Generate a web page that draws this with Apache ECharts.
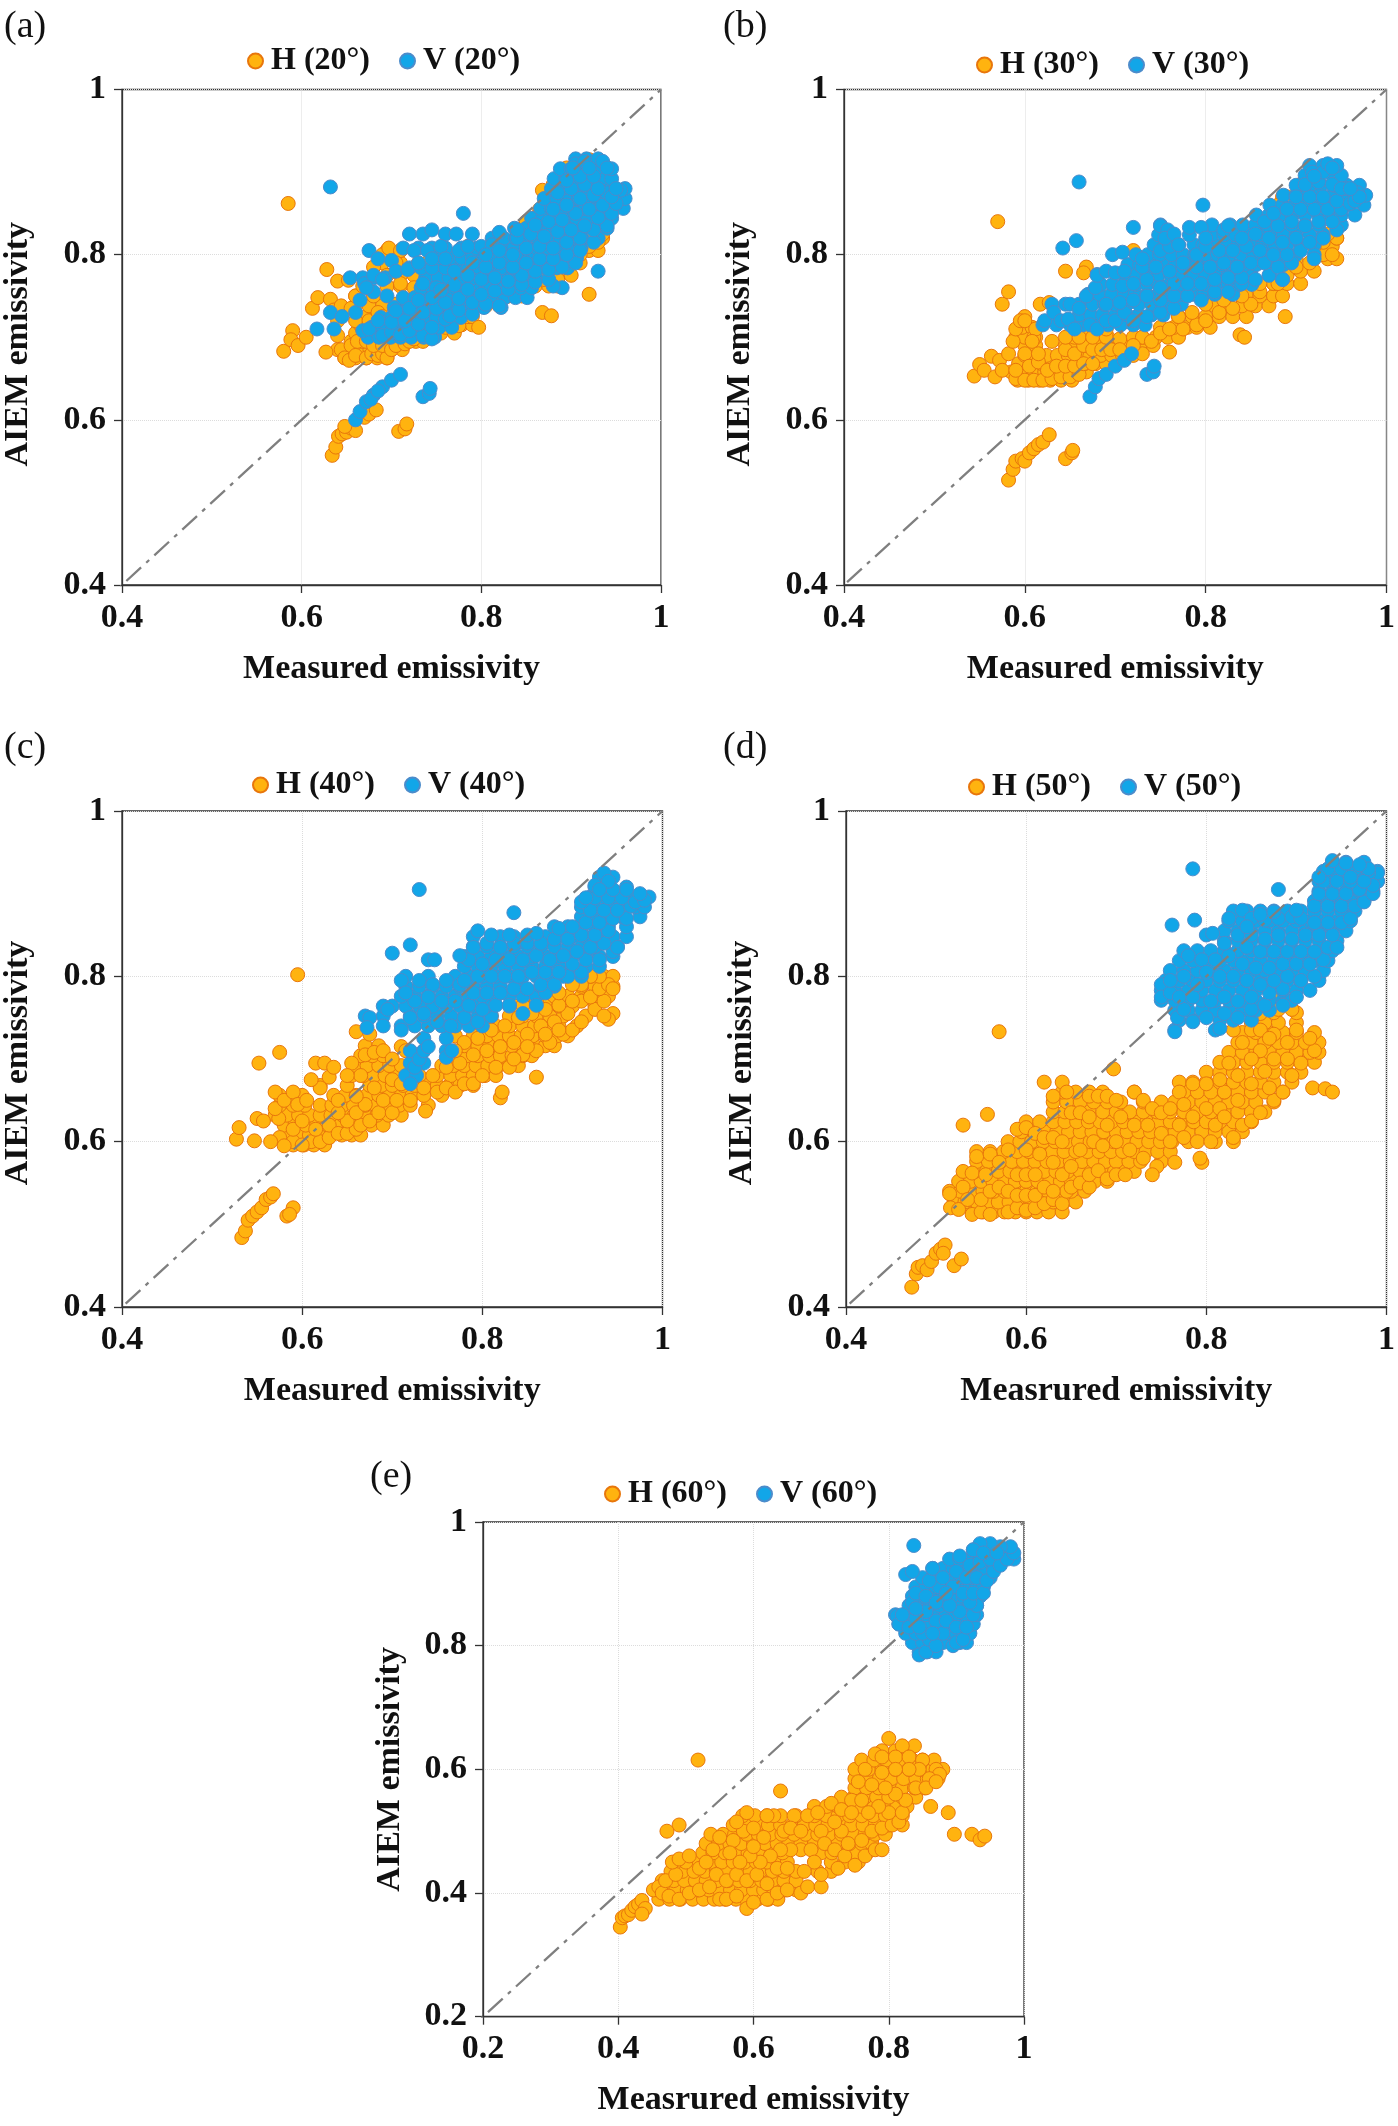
<!DOCTYPE html>
<html><head><meta charset="utf-8">
<style>html,body{margin:0;padding:0;background:#fff}#c{width:1398px;height:2126px}</style>
<script src="https://cdn.jsdelivr.net/npm/echarts@6/dist/echarts.min.js"></script>
</head><body><div id="c"></div>
<script>
const panelLetters=['(a)','(b)','(c)','(d)','(e)'];
const angles=['20°','30°','40°','50°','60°'];
const xTitles=['Measured emissivity','Measured emissivity','Measured emissivity','Measrured emissivity','Measrured emissivity'];
const yTitle='AIEM emissivity';

const aH=[[.585,.862],[.58,.683],[.59,.708],[.588,.697],[.596,.69],[.605,.7],[.612,.735],[.618,.748],[.632,.746],[.628,.782],[.64,.768],[.652,.769],[.627,.682],[.64,.702],[.64,.72],[.636,.733],[.644,.738],[.644,.685],[.648,.675],[.655,.69],[.653,.672],[.66,.678],[.662,.695],[.668,.71],[.66,.72],[.655,.735],[.66,.75],[.668,.762],[.672,.675],[.678,.68],[.685,.678],[.69,.68],[.695,.675],[.672,.695],[.68,.69],[.69,.69],[.7,.685],[.705,.69],[.715,.692],[.72,.695],[.725,.698],[.675,.72],[.685,.73],[.68,.785],[.69,.8],[.697,.808],[.71,.805],[.705,.79],[.695,.775],[.71,.765],[.725,.76],[.72,.745],[.705,.74],[.69,.725],[.7,.72],[.73,.71],[.745,.712],[.76,.712],[.775,.714],[.785,.725],[.79,.725],[.797,.712],[.75,.725],[.765,.73],[.78,.735],[.8,.745],[.815,.745],[.83,.75],[.845,.755],[.855,.76],[.87,.77],[.88,.772],[.89,.785],[.9,.79],[.91,.8],[.92,.81],[.93,.815],[.935,.825],[.868,.73],[.878,.726],[.92,.752],[.868,.878],[.885,.77],[.84,.83],[.86,.845],[.87,.855],[.88,.87],[.885,.885],[.89,.895],[.895,.905],[.905,.91],[.92,.915],[.94,.905],[.935,.89],[.9,.88],[.634,.557],[.638,.567],[.641,.58],[.645,.583],[.65,.585],[.655,.59],[.66,.587],[.648,.592],[.67,.603],[.675,.607],[.683,.612],[.708,.586],[.715,.589],[.717,.595],[.74,.79],[.755,.785],[.77,.8],[.785,.81]];
const aV=[[.632,.882],[.78,.85],[.617,.71],[.632,.73],[.636,.71],[.645,.725],[.66,.73],[.665,.745],[.67,.765],[.668,.708],[.675,.805],[.685,.795],[.7,.793],[.72,.825],[.735,.825],[.745,.83],[.76,.825],[.772,.825],[.79,.825],[.82,.827],[.68,.775],[.69,.77],[.695,.75],[.705,.78],[.718,.782],[.725,.805],[.74,.805],[.755,.81],[.73,.79],[.745,.795],[.76,.795],[.775,.805],[.785,.81],[.8,.81],[.812,.812],[.68,.755],[.672,.76],[.71,.73],[.72,.73],[.735,.765],[.75,.76],[.66,.6],[.665,.61],[.672,.622],[.68,.63],[.69,.64],[.7,.648],[.71,.655],[.677,.625],[.685,.635],[.735,.628],[.742,.632],[.743,.638],[.89,.76],[.88,.762],[.93,.78],[.69,.702],[.70,.706],[.71,.703],[.72,.708],[.735,.702],[.745,.698],[.675,.71],[.685,.72],[.7,.718],[.715,.72],[.73,.716],[.745,.712],[.76,.722],[.705,.732],[.72,.735],[.735,.73],[.75,.735],[.765,.726],[.775,.733],[.79,.728],[.73,.745],[.745,.748],[.76,.742],[.775,.747],[.79,.742],[.805,.74],[.82,.738],[.755,.757],[.77,.763],[.785,.758],[.8,.752],[.815,.756],[.83,.758],[.845,.764],[.86,.767],[.875,.77],[.77,.78],[.785,.775],[.8,.77],[.815,.772],[.83,.768],[.845,.775],[.86,.78],[.875,.782],[.89,.785],[.905,.79],[.79,.79],[.805,.785],[.82,.79],[.835,.785],[.85,.79],[.865,.795],[.88,.795],[.895,.8],[.91,.805],[.925,.815],[.805,.8],[.82,.805],[.835,.8],[.85,.808],[.865,.81],[.88,.808],[.895,.815],[.91,.82],[.925,.83],[.94,.835],[.84,.82],[.855,.825],[.87,.822],[.885,.828],[.9,.83],[.915,.835],[.93,.845],[.945,.85],[.84,.83],[.86,.836],[.875,.84],[.89,.842],[.905,.85],[.92,.855],[.935,.86],[.95,.862],[.88,.855],[.895,.86],[.91,.868],[.925,.872],[.94,.875],[.955,.878],[.945,.87],[.885,.875],[.9,.88],[.915,.885],[.93,.88],[.95,.88],[.895,.89],[.91,.895],[.925,.895],[.905,.91],[.915,.913],[.902,.905],[.92,.905],[.935,.913],[.94,.905]];
const aHRows=[[.675,[.648,.66,.672,.684,.695]],[.685,[.64,.652,.664,.676,.688,.7,.712]],[.695,[.655,.667,.679,.691,.703,.715,.727,.735]],[.705,[.66,.672,.684,.73,.742,.755,.77]],[.715,[.665,.678,.69,.74,.752,.765,.778,.79]],[.725,[.672,.684,.76,.775,.787]],[.738,[.66,.675,.69,.775,.79,.805,.82]],[.75,[.66,.68,.8,.815,.83,.845]],[.762,[.67,.695,.71,.83,.845,.86,.875,.885]],[.775,[.695,.71,.725,.86,.873,.885,.9]],[.79,[.69,.71,.73,.75,.88,.895,.91]],[.805,[.695,.71,.905,.92,.93]],[.82,[.92,.935]],[.84,[.85,.862]],[.855,[.865,.875]],[.87,[.875,.885]],[.885,[.88,.89,.9]],[.9,[.893,.905,.925,.94]]];
const aVRows=[[.7,[.674,.686,.699,.71,.722,.736,.748]],[.712,[.678,.69,.702,.716,.728,.74,.753,.767]],[.724,[.688,.7,.713,.725,.738,.75,.762,.777]],[.736,[.703,.716,.728,.74,.752,.766,.778,.79,.803,.822]],[.748,[.713,.726,.738,.75,.763,.776,.788,.8,.812,.826,.838,.851]],[.76,[.733,.746,.758,.77,.783,.795,.807,.82,.832,.844,.856]],[.772,[.654,.668,.68,.693,.738,.752,.764,.777,.79,.802,.815,.827,.84,.851,.861]],[.784,[.72,.733,.745,.76,.772,.786,.798,.81,.822,.835,.848,.86,.872,.884,.896]],[.796,[.753,.766,.778,.79,.803,.816,.828,.84,.853,.866,.878,.89,.906]],[.808,[.713,.73,.745,.76,.778,.795,.81,.824,.836,.85,.862,.875,.888,.9,.911]],[.82,[.812,.825,.838,.85,.863,.876,.888,.9,.912,.93]],[.832,[.837,.85,.862,.875,.888,.9,.913,.926,.94]],[.844,[.856,.868,.88,.893,.906,.918,.932,.945]],[.856,[.866,.878,.89,.902,.915,.928,.94,.958]],[.868,[.87,.884,.896,.908,.92,.932,.945,.96]],[.88,[.878,.89,.902,.915,.928,.94,.96]],[.892,[.881,.894,.906,.92,.933,.945]],[.904,[.888,.9,.913,.928,.945]],[.916,[.905,.917,.93]]];

const bH=[[.57,.84],[.575,.74],[.582,.755],[.645,.78],[.668,.785],[.665,.778],[.72,.805],[.617,.74],[.627,.742],[.888,.725],[.838,.703],[.843,.7],[.76,.682],[.73,.68],[.582,.527],[.587,.54],[.59,.55],[.597,.553],[.6,.55],[.605,.56],[.61,.565],[.615,.57],[.62,.573],[.627,.582],[.645,.553],[.652,.56],[.653,.563],[.544,.653],[.55,.667],[.555,.66],[.563,.677],[.567,.652],[.572,.672],[.575,.66],[.582,.68],[.587,.695],[.59,.71],[.595,.72],[.6,.72],[.61,.7],[.612,.71],[.608,.695],[.6,.68],[.59,.65],[.6,.648],[.61,.648],[.62,.648],[.63,.65],[.64,.652],[.65,.652],[.66,.655],[.59,.66],[.605,.665],[.615,.67],[.625,.66],[.635,.665],[.645,.665],[.655,.665],[.665,.668],[.675,.668],[.615,.68],[.63,.695],[.645,.685],[.655,.68],[.665,.69],[.675,.685],[.685,.685],[.695,.685],[.645,.7],[.66,.7],[.675,.7],[.69,.7],[.705,.698],[.72,.7],[.73,.7],[.74,.695],[.705,.685],[.72,.69],[.75,.705],[.76,.71],[.775,.71],[.79,.715],[.8,.72],[.815,.73],[.83,.735],[.85,.74],[.86,.755],[.875,.765],[.89,.775],[.9,.785],[.915,.79],[.93,.8],[.945,.795],[.94,.8],[.93,.815],[.945,.82],[.935,.825],[.92,.81],[.77,.725],[.785,.73],[.8,.74],[.82,.745],[.84,.75],[.86,.765],[.88,.765],[.89,.87],[.9,.87],[.88,.86],[.875,.855],[.91,.885],[.665,.735],[.67,.72],[.69,.71],[.7,.72],[.71,.72]];
const bV=[[.66,.888],[.797,.86],[.72,.833],[.642,.808],[.657,.817],[.697,.8],[.708,.803],[.622,.72],[.632,.73],[.64,.72],[.65,.74],[.648,.722],[.66,.735],[.655,.71],[.672,.715],[.668,.75],[.678,.76],[.68,.775],[.69,.78],[.7,.778],[.71,.78],[.708,.762],[.672,.628],[.678,.64],[.682,.65],[.69,.655],[.7,.665],[.71,.672],[.718,.68],[.735,.655],[.742,.658],[.743,.665],[.68,.71],[.69,.72],[.7,.72],[.71,.73],[.72,.72],[.735,.725],[.75,.73],[.765,.735],[.69,.74],[.705,.742],[.72,.745],[.735,.75],[.75,.745],[.765,.75],[.78,.75],[.795,.745],[.81,.755],[.825,.755],[.84,.765],[.72,.765],[.735,.77],[.75,.76],[.765,.765],[.78,.765],[.795,.765],[.81,.77],[.825,.772],[.84,.772],[.855,.77],[.87,.775],[.885,.77],[.73,.785],[.745,.785],[.76,.78],[.775,.785],[.79,.785],[.805,.785],[.82,.79],[.835,.785],[.85,.79],[.865,.79],[.88,.785],[.895,.79],[.73,.795],[.75,.805],[.76,.81],[.775,.79],[.79,.8],[.8,.81],[.815,.805],[.83,.805],[.845,.81],[.86,.805],[.875,.8],[.89,.8],[.905,.805],[.92,.8],[.75,.835],[.758,.83],[.755,.82],[.765,.825],[.77,.812],[.782,.833],[.795,.833],[.8,.82],[.82,.83],[.825,.835],[.84,.82],[.855,.825],[.87,.82],[.885,.815],[.9,.82],[.915,.815],[.93,.82],[.945,.83],[.865,.84],[.88,.835],[.895,.84],[.91,.835],[.925,.84],[.94,.84],[.875,.85],[.89,.855],[.905,.855],[.92,.855],[.935,.855],[.95,.855],[.9,.87],[.915,.87],[.93,.87],[.945,.865],[.96,.862],[.968,.875],[.965,.865],[.955,.88],[.97,.87],[.91,.885],[.925,.888],[.94,.885],[.95,.88],[.96,.88],[.918,.9],[.93,.9],[.935,.91],[.94,.905],[.92,.895],[.885,.77],[.92,.795]];
const bHRows=[[.648,[.592,.604,.616,.628,.64,.652]],[.658,[.585,.597,.61,.622,.634,.646,.658,.668]],[.668,[.593,.607,.619,.63,.642,.654,.666,.678,.69]],[.678,[.6,.612,.624,.636,.648,.66,.672,.684,.696,.708,.72]],[.69,[.6,.612,.645,.657,.669,.681,.693,.705,.717,.73,.742]],[.7,[.59,.6,.612,.655,.667,.68,.692,.73,.745,.758,.77]],[.712,[.597,.608,.667,.68,.75,.765,.78,.79,.805]],[.725,[.6,.77,.785,.8,.815,.83,.845]],[.738,[.81,.825,.84,.855,.87]],[.75,[.845,.86,.875,.885]],[.765,[.875,.89,.905]],[.78,[.89,.905,.92]],[.795,[.9,.92,.935]],[.81,[.925,.94]],[.82,[.93,.945]],[.855,[.875,.885]],[.87,[.885,.9,.912]],[.885,[.905,.918]]];
const bVRows=[[.715,[.62,.635,.65,.664,.678,.692,.706,.72,.733]],[.727,[.66,.673,.686,.7,.713,.726,.74,.753]],[.74,[.63,.645,.66,.675,.688,.7,.713,.726,.74,.752,.762,.773]],[.752,[.67,.683,.696,.71,.722,.735,.748,.76,.773,.786,.798,.81,.83]],[.764,[.684,.697,.71,.723,.735,.748,.76,.773,.786,.8,.812,.825,.838,.851]],[.776,[.68,.709,.722,.735,.748,.761,.774,.787,.8,.812,.825,.838,.85,.871]],[.788,[.714,.727,.74,.753,.766,.779,.792,.805,.818,.83,.843,.856,.87,.886]],[.8,[.723,.736,.749,.762,.775,.788,.8,.813,.826,.84,.853,.866,.879,.9]],[.812,[.743,.756,.77,.787,.797,.81,.823,.836,.85,.863,.876,.89,.905,.92]],[.824,[.748,.762,.782,.807,.82,.833,.846,.86,.873,.886,.9,.915,.93]],[.836,[.75,.807,.827,.841,.855,.868,.88,.895,.91,.925,.95]],[.848,[.856,.87,.883,.896,.91,.925,.938,.95,.965]],[.86,[.871,.885,.898,.91,.925,.94,.955,.975]],[.872,[.886,.9,.913,.926,.94,.955,.977]],[.884,[.9,.915,.928,.942,.956,.97]],[.896,[.91,.925,.94,.95]],[.908,[.915,.93,.945]]];

const cH=[[.595,.802],[.552,.695],[.575,.708],[.57,.66],[.527,.603],[.53,.617],[.547,.601],[.55,.628],[.557,.625],[.533,.484],[.537,.492],[.54,.505],[.545,.51],[.55,.515],[.555,.52],[.56,.53],[.565,.533],[.568,.537],[.583,.51],[.59,.52],[.586,.512],[.574,.628],[.57,.64],[.58,.65],[.59,.66],[.595,.645],[.605,.65],[.575,.605],[.565,.6],[.59,.6],[.58,.595],[.59,.615],[.6,.625],[.61,.6],[.6,.596],[.62,.6],[.63,.605],[.615,.615],[.63,.62],[.64,.61],[.65,.61],[.66,.615],[.665,.62],[.65,.625],[.64,.635],[.66,.635],[.675,.625],[.685,.635],[.7,.635],[.67,.645],[.69,.65],[.705,.65],[.72,.65],[.68,.665],[.66,.655],[.64,.65],[.62,.665],[.61,.675],[.63,.678],[.615,.695],[.625,.695],[.635,.69],[.655,.695],[.665,.68],[.65,.68],[.67,.705],[.68,.708],[.69,.71],[.7,.7],[.71,.715],[.715,.71],[.66,.733],[.675,.73],[.7,.675],[.71,.67],[.72,.68],[.735,.665],[.75,.66],[.737,.637],[.745,.68],[.76,.665],[.77,.66],[.78,.67],[.79,.67],[.8,.68],[.815,.69],[.83,.69],[.845,.705],[.86,.71],[.875,.72],[.89,.73],[.9,.735],[.91,.745],[.925,.76],[.935,.77],[.945,.755],[.94,.748],[.935,.752],[.86,.678],[.82,.653],[.822,.66],[.76,.69],[.775,.695],[.79,.705],[.805,.71],[.82,.715],[.835,.72],[.85,.73],[.865,.74],[.88,.745],[.895,.755],[.91,.77],[.92,.775],[.93,.785],[.94,.79],[.945,.785],[.93,.8],[.92,.8],[.91,.79],[.9,.77],[.885,.765],[.87,.76],[.855,.755],[.84,.75],[.825,.74],[.81,.735],[.795,.725],[.78,.72],[.77,.71],[.845,.765],[.86,.77],[.885,.78],[.9,.79],[.835,.7],[.85,.715],[.87,.73],[.885,.735]];
const cV=[[.73,.905],[.835,.877],[.7,.828],[.72,.838],[.74,.82],[.747,.82],[.675,.75],[.672,.738],[.69,.74],[.695,.76],[.71,.795],[.72,.67],[.725,.69],[.73,.7],[.735,.71],[.74,.715],[.76,.702],[.766,.71],[.71,.735],[.72,.75],[.725,.77],[.715,.78],[.73,.795],[.745,.79],[.76,.795],[.775,.79],[.74,.775],[.755,.77],[.77,.77],[.735,.755],[.75,.745],[.765,.74],[.78,.75],[.795,.745],[.785,.765],[.8,.76],[.815,.765],[.83,.765],[.845,.755],[.86,.765],[.87,.78],[.79,.78],[.805,.78],[.82,.78],[.835,.785],[.85,.785],[.865,.79],[.88,.79],[.895,.8],[.91,.805],[.78,.795],[.795,.8],[.81,.8],[.825,.8],[.84,.8],[.855,.805],[.87,.805],[.885,.805],[.9,.815],[.915,.82],[.93,.82],[.945,.83],[.95,.835],[.785,.82],[.8,.815],[.815,.82],[.83,.82],[.845,.82],[.86,.825],[.875,.82],[.89,.825],[.905,.83],[.92,.835],[.935,.84],[.775,.825],[.79,.835],[.805,.84],[.82,.835],[.835,.84],[.85,.84],[.865,.84],[.88,.845],[.895,.845],[.91,.85],[.925,.85],[.94,.855],[.795,.855],[.81,.85],[.83,.85],[.85,.85],[.86,.852],[.885,.858],[.9,.86],[.915,.865],[.93,.865],[.945,.87],[.96,.87],[.92,.88],[.935,.88],[.95,.88],[.965,.885],[.91,.89],[.925,.895],[.94,.895],[.955,.895],[.97,.89],[.98,.892],[.975,.9],[.96,.905],[.945,.905],[.925,.91],[.935,.925],[.94,.915],[.93,.905],[.915,.895]];
const cHRows=[[.596,[.59,.602,.613,.625]],[.608,[.585,.597,.608,.62,.632,.644,.655,.665]],[.62,[.58,.592,.604,.616,.628,.64,.652,.664,.677,.69]],[.632,[.57,.583,.596,.608,.62,.632,.645,.658,.67,.683,.696,.71]],[.644,[.575,.59,.603,.62,.633,.645,.657,.67,.682,.695,.708,.72,.74]],[.656,[.575,.6,.635,.648,.66,.672,.685,.697,.71,.722,.735,.755]],[.668,[.62,.65,.675,.688,.7,.712,.725,.737,.75,.763,.775,.79]],[.68,[.655,.668,.68,.692,.704,.716,.73,.75,.765,.778,.79,.803,.815]],[.692,[.66,.672,.685,.697,.71,.755,.768,.78,.793,.806,.818,.83,.84]],[.704,[.665,.678,.69,.77,.783,.795,.808,.82,.833,.845,.855]],[.716,[.67,.685,.78,.795,.808,.82,.833,.846,.858,.87,.88]],[.728,[.77,.79,.805,.818,.83,.843,.856,.87,.883,.895]],[.74,[.8,.815,.83,.845,.858,.87,.885,.905]],[.752,[.81,.83,.845,.86,.875,.89,.915]],[.764,[.84,.855,.87,.885,.9,.925]],[.776,[.88,.895,.91,.925,.94]],[.788,[.91,.925,.945]],[.8,[.92,.935,.945]]];
const cVRows=[[.68,[.715,.727]],[.695,[.72,.735]],[.71,[.72,.735,.76]],[.725,[.735,.76]],[.74,[.71,.725,.74,.755,.77,.785,.8]],[.752,[.67,.69,.72,.735,.75,.765,.78,.795,.81]],[.764,[.69,.7,.715,.73,.745,.76,.775,.79,.805,.83]],[.776,[.71,.725,.74,.755,.77,.785,.8,.815,.83,.845,.86]],[.788,[.715,.73,.745,.76,.775,.79,.805,.82,.84,.865,.88]],[.8,[.715,.74,.77,.785,.8,.815,.83,.845,.86,.875,.89,.91]],[.812,[.78,.795,.81,.825,.84,.855,.87,.885,.9,.915,.93]],[.824,[.78,.795,.81,.825,.84,.855,.87,.885,.9,.915,.93,.945]],[.836,[.79,.805,.82,.835,.85,.865,.88,.895,.91,.925,.95]],[.848,[.79,.82,.835,.85,.87,.885,.9,.915,.93,.945,.96]],[.86,[.88,.895,.91,.925,.94,.96]],[.872,[.91,.925,.94,.955,.975]],[.884,[.91,.925,.94,.955,.97,.98]],[.896,[.92,.935,.95,.965,.985]],[.908,[.925,.94,.96]],[.92,[.93,.945]]];

const dH=[[.57,.733],[.697,.688],[.557,.633],[.53,.62],[.918,.665],[.932,.664],[.94,.66],[.473,.424],[.478,.44],[.48,.448],[.485,.45],[.49,.445],[.495,.455],[.5,.465],[.505,.47],[.51,.475],[.508,.465],[.52,.45],[.528,.458],[.515,.537],[.516,.52],[.525,.518],[.53,.545],[.54,.512],[.55,.515],[.56,.512],[.535,.53],[.55,.53],[.56,.54],[.57,.545],[.58,.515],[.59,.52],[.6,.517],[.61,.52],[.62,.525],[.63,.53],[.64,.525],[.645,.54],[.54,.562],[.545,.582],[.555,.56],[.56,.585],[.57,.575],[.58,.59],[.59,.56],[.6,.56],[.61,.56],[.58,.54],[.59,.535],[.6,.535],[.61,.535],[.62,.545],[.63,.54],[.59,.615],[.6,.617],[.61,.61],[.6,.59],[.615,.585],[.62,.605],[.63,.575],[.63,.605],[.64,.6],[.64,.56],[.65,.57],[.65,.545],[.66,.55],[.67,.545],[.67,.56],[.68,.565],[.69,.555],[.7,.56],[.71,.56],[.66,.59],[.675,.6],[.685,.595],[.7,.6],[.715,.59],[.73,.58],[.745,.57],[.74,.56],[.765,.575],[.795,.575],[.793,.58],[.63,.655],[.645,.66],[.65,.635],[.66,.635],[.67,.655],[.67,.63],[.68,.655],[.69,.655],[.7,.65],[.69,.62],[.705,.63],[.72,.62],[.72,.66],[.73,.65],[.74,.64],[.735,.62],[.75,.635],[.76,.64],[.77,.62],[.75,.61],[.76,.6],[.775,.605],[.79,.6],[.805,.6],[.83,.605],[.84,.62],[.85,.625],[.86,.635],[.875,.65],[.885,.66],[.895,.68],[.905,.695],[.92,.71],[.915,.725],[.9,.735],[.89,.72],[.875,.73],[.86,.71],[.85,.7],[.835,.68],[.82,.66],[.8,.64],[.785,.63],[.77,.66],[.785,.67],[.8,.67],[.815,.675],[.825,.695],[.84,.72],[.85,.735],[.86,.735],[.87,.725],[.875,.7],[.89,.7],[.865,.685],[.85,.67],[.835,.65],[.815,.64],[.83,.735],[.85,.76],[.86,.755],[.88,.76],[.895,.76],[.875,.78],[.81,.62],[.82,.63],[.87,.665],[.775,.645]];
const dV=[[.785,.93],[.88,.905],[.787,.868],[.762,.862],[.8,.85],[.807,.852],[.75,.79],[.75,.775],[.765,.733],[.768,.75],[.76,.78],[.775,.76],[.785,.745],[.77,.775],[.785,.775],[.76,.795],[.775,.8],[.79,.79],[.8,.75],[.815,.737],[.82,.755],[.805,.77],[.82,.775],[.835,.75],[.85,.76],[.865,.765],[.835,.77],[.85,.775],[.87,.78],[.885,.765],[.9,.775],[.885,.785],[.78,.825],[.795,.82],[.81,.82],[.825,.825],[.8,.805],[.815,.8],[.83,.8],[.845,.795],[.86,.79],[.875,.795],[.89,.8],[.905,.795],[.92,.8],[.84,.815],[.855,.81],[.87,.81],[.885,.815],[.9,.815],[.915,.815],[.93,.82],[.845,.835],[.86,.83],[.875,.83],[.89,.83],[.905,.83],[.92,.83],[.935,.835],[.945,.835],[.82,.84],[.835,.85],[.85,.85],[.865,.845],[.88,.85],[.895,.845],[.91,.85],[.925,.85],[.94,.85],[.825,.87],[.84,.88],[.85,.87],[.865,.868],[.88,.87],[.895,.872],[.905,.87],[.92,.865],[.935,.865],[.95,.865],[.96,.87],[.845,.86],[.86,.875],[.875,.878],[.9,.88],[.92,.885],[.935,.885],[.95,.885],[.965,.885],[.975,.89],[.985,.9],[.99,.915],[.99,.925],[.98,.925],[.985,.91],[.925,.9],[.94,.9],[.955,.9],[.97,.905],[.93,.915],[.945,.915],[.96,.915],[.975,.915],[.935,.93],[.95,.93],[.965,.93],[.98,.93],[.94,.94],[.955,.937],[.97,.935],[.96,.92],[.925,.92]];
const dHRows=[[.515,[.54,.552,.564,.576,.588,.6,.612,.625,.64]],[.527,[.52,.532,.545,.557,.569,.581,.593,.605,.617,.63,.642,.655]],[.54,[.515,.527,.54,.552,.564,.576,.588,.6,.612,.624,.636,.65,.665]],[.552,[.525,.538,.55,.563,.576,.588,.6,.613,.626,.638,.65,.663,.676,.69]],[.564,[.53,.543,.556,.569,.582,.595,.608,.62,.633,.646,.66,.672,.685,.698,.71,.72]],[.576,[.545,.558,.571,.584,.597,.61,.623,.636,.649,.662,.675,.688,.7,.714,.727,.75]],[.588,[.545,.56,.575,.59,.603,.616,.629,.642,.655,.668,.681,.694,.707,.72,.733,.746,.76]],[.6,[.58,.593,.606,.619,.632,.645,.658,.671,.684,.697,.71,.723,.736,.749,.762,.78,.81,.83]],[.612,[.595,.608,.621,.634,.647,.66,.673,.686,.7,.712,.725,.738,.751,.765,.78,.795,.81,.825,.84]],[.624,[.6,.615,.63,.643,.656,.669,.682,.695,.708,.721,.734,.747,.76,.773,.786,.8,.815,.83,.85]],[.636,[.63,.643,.656,.67,.685,.7,.715,.73,.745,.76,.775,.79,.805,.82,.835,.85,.865]],[.648,[.63,.645,.66,.675,.69,.705,.73,.75,.765,.78,.795,.81,.825,.84,.855,.875]],[.66,[.64,.655,.67,.685,.72,.775,.79,.805,.82,.835,.85,.865,.885]],[.672,[.62,.64,.77,.785,.8,.815,.83,.845,.86,.875,.895]],[.684,[.8,.815,.83,.845,.86,.875,.89,.905]],[.696,[.815,.83,.845,.86,.875,.89,.905,.92]],[.708,[.825,.84,.855,.87,.885,.9,.915,.925]],[.72,[.835,.85,.865,.88,.895,.91,.925]],[.732,[.84,.855,.87,.885,.9,.92]],[.744,[.85,.865,.88,.9]],[.756,[.86,.875,.9]],[.78,[.875]]];
const dVRows=[[.735,[.765,.81]],[.747,[.77,.785,.815,.83,.85]],[.759,[.765,.78,.795,.81,.825,.84,.855,.87]],[.771,[.75,.765,.78,.795,.81,.825,.84,.855,.87,.885,.895]],[.783,[.75,.765,.78,.795,.81,.825,.84,.855,.87,.885,.9,.915]],[.795,[.755,.77,.785,.8,.815,.83,.845,.86,.875,.89,.905,.925]],[.807,[.76,.775,.79,.805,.82,.835,.85,.865,.88,.895,.91,.93]],[.819,[.77,.785,.8,.815,.83,.845,.86,.875,.89,.905,.92,.935]],[.831,[.775,.79,.805,.82,.835,.85,.865,.88,.895,.91,.925,.94]],[.843,[.82,.835,.85,.865,.88,.895,.91,.925,.945]],[.855,[.82,.835,.85,.865,.88,.895,.91,.925,.94,.955]],[.867,[.825,.84,.855,.87,.885,.9,.915,.93,.945,.96]],[.879,[.83,.845,.86,.875,.89,.905,.92,.935,.95,.965]],[.891,[.92,.935,.95,.965,.975]],[.903,[.925,.94,.955,.97,.985]],[.915,[.925,.94,.955,.97,.99]],[.927,[.93,.945,.96,.975,.99]],[.938,[.94,.955,.975]]];

const eH=[[.403,.345],[.406,.36],[.41,.363],[.415,.365],[.42,.372],[.425,.378],[.43,.382],[.435,.388],[.44,.375],[.435,.366],[.518,.615],[.64,.565],[.49,.51],[.472,.5],[.8,.65],[.838,.638],[.82,.638],[.862,.54],[.888,.53],[.897,.495],[.923,.495],[.935,.486],[.942,.492],[.46,.41],[.465,.4],[.475,.395],[.49,.39],[.505,.4],[.52,.405],[.535,.41],[.55,.39],[.56,.39],[.575,.395],[.59,.375],[.6,.385],[.62,.39],[.635,.4],[.65,.405],[.67,.4],[.68,.41],[.7,.41],[.7,.43],[.47,.42],[.485,.43],[.48,.45],[.49,.455],[.505,.46],[.52,.44],[.53,.45],[.545,.43],[.56,.42],[.575,.43],[.59,.42],[.605,.43],[.62,.415],[.635,.44],[.65,.44],[.54,.47],[.55,.49],[.57,.485],[.585,.5],[.59,.53],[.575,.515],[.6,.505],[.615,.49],[.63,.525],[.62,.525],[.645,.5],[.66,.525],[.655,.505],[.67,.5],[.68,.525],[.695,.53],[.7,.5],[.715,.545],[.73,.535],[.745,.55],[.755,.58],[.765,.6],[.78,.625],[.79,.62],[.81,.62],[.83,.62],[.85,.615],[.87,.6],[.875,.592],[.86,.585],[.845,.6],[.83,.6],[.81,.6],[.79,.595],[.775,.575],[.76,.55],[.745,.53],[.73,.5],[.72,.515],[.705,.48],[.72,.47],[.735,.46],[.75,.445],[.765,.46],[.78,.47],[.79,.47],[.725,.44],[.74,.48],[.76,.485],[.775,.5],[.79,.505],[.805,.51],[.815,.515],[.8,.53],[.785,.54],[.77,.53],[.82,.53],[.825,.55],[.81,.56],[.795,.57],[.84,.57],[.855,.57],[.87,.58],[.67,.47],[.685,.47],[.69,.45],[.675,.435],[.655,.47],[.64,.47],[.625,.46],[.61,.45],[.595,.46],[.58,.45],[.565,.465],[.6,.475]];
const eV=[[.837,.962],[.825,.915],[.835,.92],[.812,.848],[.815,.835],[.83,.83],[.845,.785],[.855,.79],[.86,.81],[.85,.82],[.84,.845],[.835,.87],[.84,.885],[.855,.88],[.87,.8],[.88,.82],[.895,.8],[.9,.805],[.91,.81],[.87,.84],[.855,.855],[.87,.87],[.885,.84],[.9,.83],[.915,.83],[.925,.85],[.93,.865],[.92,.87],[.905,.855],[.89,.865],[.875,.895],[.86,.905],[.865,.925],[.88,.91],[.895,.895],[.91,.885],[.925,.885],[.94,.885],[.9,.92],[.915,.91],[.93,.91],[.945,.905],[.955,.92],[.905,.945],[.92,.93],[.935,.935],[.95,.94],[.965,.93],[.975,.94],[.985,.95],[.98,.96],[.965,.96],[.95,.965],[.935,.965],[.925,.955],[.94,.95],[.96,.95],[.885,.885],[.845,.83],[.865,.82],[.82,.85],[.84,.86]];
const eHRows=[[.39,[.46,.476,.492,.51,.526,.542,.558,.574,.59,.606,.622,.636]],[.405,[.452,.468,.485,.502,.518,.534,.55,.566,.582,.6,.615,.63,.647,.663]],[.42,[.465,.482,.498,.514,.53,.546,.562,.578,.595,.612,.628,.645,.663]],[.435,[.478,.495,.512,.528,.545,.562,.578,.595,.61,.628,.645,.663,.695,.715]],[.45,[.485,.5,.52,.537,.553,.57,.587,.604,.62,.636,.65,.715,.735,.755]],[.465,[.525,.54,.558,.575,.592,.61,.627,.643,.7,.716,.733,.75,.768]],[.48,[.53,.548,.565,.582,.6,.617,.635,.652,.67,.69,.708,.725,.742,.76,.775]],[.495,[.537,.555,.572,.59,.607,.625,.642,.66,.677,.695,.712,.73,.747,.765,.78,.795]],[.51,[.57,.588,.605,.622,.64,.657,.675,.692,.71,.727,.745,.762,.78,.8,.82]],[.525,[.584,.602,.62,.64,.663,.69,.708,.725,.742,.76,.777,.795,.82]],[.54,[.69,.708,.725,.742,.76,.778,.795,.812,.827]],[.555,[.73,.748,.765,.782,.8,.82,.84]],[.57,[.75,.767,.785,.802,.82,.838,.853]],[.585,[.75,.768,.786,.804,.822,.84,.857,.873]],[.6,[.75,.77,.79,.81,.83,.85,.865,.88]],[.615,[.76,.778,.796,.815,.835,.85,.867]],[.63,[.79,.81,.83]]];
const eVRows=[[.79,[.845,.857,.87]],[.805,[.835,.85,.865,.88,.905,.915]],[.82,[.825,.84,.855,.87,.89,.9,.92]],[.835,[.815,.83,.845,.86,.875,.89,.905,.925]],[.85,[.81,.825,.84,.855,.87,.885,.9,.915,.93]],[.865,[.83,.845,.86,.875,.89,.905,.92,.93]],[.88,[.835,.85,.865,.88,.895,.91,.925,.935]],[.895,[.84,.855,.87,.885,.9,.915,.93,.94]],[.91,[.85,.865,.88,.895,.91,.925,.95]],[.925,[.865,.88,.895,.91,.925,.94,.955]],[.94,[.89,.905,.92,.935,.95,.965,.985]],[.955,[.925,.94,.955,.97,.98]]];

const hPoints=[aH,bH,cH,dH,eH];
const vPoints=[aV,bV,cV,dV,eV];
const hRows=[aHRows,bHRows,cHRows,dHRows,eHRows];
const vRows=[aVRows,bVRows,cVRows,dVRows,eVRows];
const axisMins=[.4,.4,.4,.4,.2];
const identity=[[0,0],[1,1]];

const gridBoxes=[[119,89.5,542,495.5],[844,89.5,544,495.5],[120,811,542.5,496],[846,811,544,496],[483,1522,541,494.7]];
const letterPos=[[-1,3],[718,3],[-1,724],[718,724],[365,1453]];
const legendPos=[[242,40],[971,44],[247,764],[963,766],[599,1473]];
const titleShift=[14,14,8,8,0];
const yNameGaps=[87,87,87,87,76];
const SERIF='"Liberation Serif",serif';

const fromRows=rows=>rows.flatMap(([y,xs])=>xs.map(x=>[x,y]));
const chart=echarts.init(document.getElementById('c'),null,{renderer:'canvas'});
const opt={animation:false,backgroundColor:'#fff',title:[],legend:[],grid:[],xAxis:[],yAxis:[],series:[]};
const fmt=v=>Math.abs(v-1)<1e-6?'1':v.toFixed(1);
gridBoxes.forEach((b,i)=>{
  opt.grid.push({left:b[0],top:b[1],width:b[2],height:b[3],show:true,borderColor:'#333',borderWidth:1.3,backgroundColor:'transparent'});
  const common=(name)=>({type:'value',min:axisMins[i],max:1,interval:.2,gridIndex:i,name:name,nameLocation:'middle',
    nameTextStyle:{fontFamily:SERIF,fontWeight:'bold',fontSize:34,color:'#111'},
    axisLine:{show:true,onZero:false,lineStyle:{color:'#333',width:1.3}},
    axisTick:{show:true,length:8,lineStyle:{color:'#333',width:1.3}},
    axisLabel:{formatter:fmt,fontFamily:SERIF,fontWeight:'bold',fontSize:34,color:'#111',margin:16,showMaxLabel:true,showMinLabel:true},
    splitLine:{show:true,lineStyle:{color:'#dcdcdc',width:1,type:'dotted'}}});
  opt.xAxis.push(Object.assign(common(xTitles[i]),{nameGap:67}));
  const y=common(yTitle);
  y.nameTextStyle.padding=[0,titleShift[i],0,0];
  opt.yAxis.push(Object.assign(y,{nameGap:yNameGaps[i]}));
  opt.title.push({text:panelLetters[i],left:letterPos[i][0],top:letterPos[i][1],textStyle:{fontFamily:SERIF,fontWeight:'normal',fontSize:38,color:'#111'}});
  opt.legend.push({data:['H ('+angles[i]+')','V ('+angles[i]+')'],left:legendPos[i][0],top:legendPos[i][1],itemWidth:15,itemHeight:15,itemGap:29,icon:'circle',selectedMode:false,
    textStyle:{fontFamily:SERIF,fontWeight:'bold',fontSize:32,color:'#111',padding:[0,0,0,3]}});
  opt.series.push({type:'scatter',name:'H ('+angles[i]+')',xAxisIndex:i,yAxisIndex:i,data:fromRows(hRows[i]).concat(hPoints[i]),symbolSize:14,z:2,
    itemStyle:{color:'#FFB30F',borderColor:'#E8760C',borderWidth:1,opacity:1}});
  opt.series.push({type:'scatter',name:'V ('+angles[i]+')',xAxisIndex:i,yAxisIndex:i,data:fromRows(vRows[i]).concat(vPoints[i]),symbolSize:14,z:3,
    itemStyle:{color:'#12A6E8',borderColor:'#4C8CCB',borderWidth:1,opacity:1}});
  opt.series.push({type:'line',xAxisIndex:i,yAxisIndex:i,data:identity,showSymbol:false,symbol:'none',silent:true,z:4,
    lineStyle:{color:'#7f7f7f',width:2.3,type:[20,7,4,7]},clip:true});
});
chart.setOption(opt);
</script></body></html>
